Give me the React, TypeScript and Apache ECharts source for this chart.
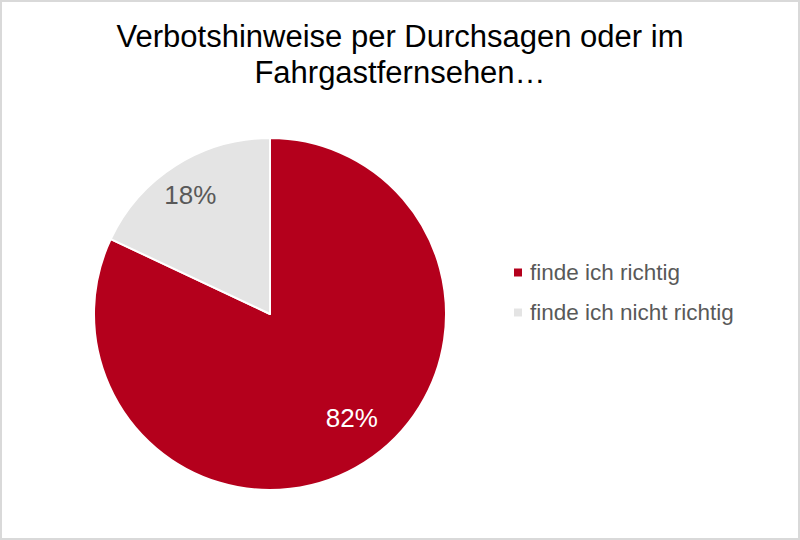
import React, { useEffect, useRef } from "react";
import * as echarts from "echarts";

const titleText = "Verbotshinweise per Durchsagen oder im\nFahrgastfernsehen…";
const categories = ["finde ich richtig", "finde ich nicht richtig"];
const values = [82, 18];
const colors = ["#B4001C", "#E4E4E4"];
const labelColors = ["#FFFFFF", "#595959"];
const labelOffsets: [number, number][] = [[33, 27], [-31, -42]];

export default function App() {
  const ref = useRef<HTMLDivElement>(null);
  useEffect(() => {
    if (!ref.current) return;
    const chart = echarts.init(ref.current, undefined, { renderer: "svg" });
    chart.setOption({
      animation: false,
      backgroundColor: "transparent",
      title: {
        text: titleText,
        left: "center",
        top: 13,
        textStyle: {
          fontFamily: "Liberation Sans, Arial, sans-serif",
          fontSize: 31,
          fontWeight: "normal",
          color: "#000000",
          lineHeight: 36,
        },
      },
      legend: {
        orient: "vertical",
        left: 507,
        top: 256,
        itemWidth: 10,
        itemHeight: 10,
        itemGap: 17,
        icon: "rect",
        data: categories,
        textStyle: {
          fontFamily: "Liberation Sans, Arial, sans-serif",
          fontSize: 22.5,
          color: "#595959",
          padding: [0, 0, 0, 2],
        },
      },
      series: [
        {
          type: "pie",
          center: [270, 314],
          radius: 176,
          startAngle: 90,
          clockwise: true,
          itemStyle: { borderColor: "#FFFFFF", borderWidth: 2 },
          label: {
            show: true,
            position: "inside",
            formatter: "{c}%",
            fontFamily: "Liberation Sans, Arial, sans-serif",
            fontSize: 26,
          },
          labelLine: { show: false },
          emphasis: { disabled: true },
          data: categories.map((name, i) => ({
            name,
            value: values[i],
            itemStyle: { color: colors[i] },
            label: { color: labelColors[i], offset: labelOffsets[i] },
          })),
        },
      ],
    });
    return () => chart.dispose();
  }, []);
  return (
    <div
      style={{
        position: "fixed",
        left: 0,
        top: 0,
        width: 800,
        height: 540,
        background: "#fff",
      }}
    >
      <div ref={ref} style={{ position: "absolute", left: 0, top: 0, width: 800, height: 540 }} />
      <div
        style={{
          position: "absolute",
          left: 0,
          top: 0,
          width: 800,
          height: 540,
          boxSizing: "border-box",
          border: "2px solid #D9D9D9",
          pointerEvents: "none",
        }}
      />
    </div>
  );
}
